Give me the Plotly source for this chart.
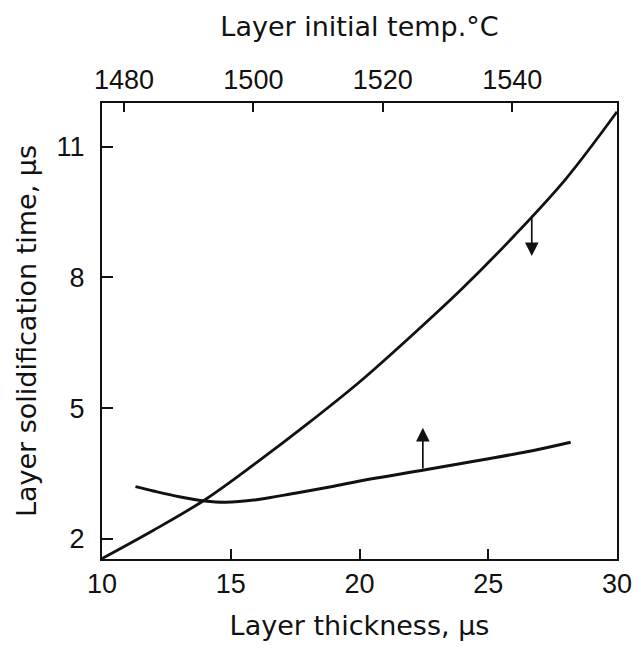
import plotly.graph_objects as go

# Curve rising with thickness (upper curve at right)
thick_a = [10, 12, 14, 16, 18, 20, 22, 24, 26, 28, 30]
time_a = [1.55, 2.2, 2.9, 3.75, 4.65, 5.6, 6.65, 7.75, 8.95, 10.25, 11.8]

# Curve vs initial temperature (lower curve at right), plotted on thickness scale
thick_b = [11.3, 12, 13, 14, 14.8, 16, 17.5, 19, 20.6, 22.5, 24.5, 26.5, 28.2]
time_b = [3.2, 3.1, 2.97, 2.87, 2.84, 2.9, 3.05, 3.21, 3.39, 3.58, 3.79, 4.0, 4.22]

x_ticks = [10, 15, 20, 25, 30]
y_ticks = [2, 5, 8, 11]
temp_ticks = [1480, 1500, 1520, 1540]

# arrows: (x, base y, tip y)
arrow_a = (26.69, 9.39, 8.49)
arrow_b = (22.46, 3.58, 4.55)

TICKFONT = "Liberation Sans, Arial, sans-serif"
TITLEFONT = "DejaVu Sans, Liberation Sans, sans-serif"
BLACK = "#111111"

fig = go.Figure()
fig.add_trace(go.Scatter(x=thick_a, y=time_a, mode="lines", line=dict(color=BLACK, width=2.8, shape="spline"),
                         showlegend=False, hoverinfo="skip"))
fig.add_trace(go.Scatter(x=thick_b, y=time_b, mode="lines", line=dict(color=BLACK, width=3, shape="spline"),
                         showlegend=False, hoverinfo="skip"))
# invisible trace for top axis
fig.add_trace(go.Scatter(x=[temp_ticks[0]], y=[None], xaxis="x2", mode="lines", showlegend=False, hoverinfo="skip"))

for ax_x, base, tip in (arrow_a, arrow_b):
    fig.add_annotation(x=ax_x, y=tip, ax=ax_x, ay=base, xref="x", yref="y", axref="x", ayref="y",
                       showarrow=True, arrowhead=2, arrowsize=1.6, arrowwidth=1.7, arrowcolor=BLACK, text="")

tf = dict(family=TICKFONT, size=27, color=BLACK)
ttl = dict(family=TITLEFONT, size=27, color=BLACK)

fig.update_layout(
    width=644, height=648,
    margin=dict(l=102, r=17, t=103, b=89),
    paper_bgcolor="white", plot_bgcolor="white",
    font=dict(family=TICKFONT, color=BLACK, size=26),
    xaxis=dict(range=[10, 30], tickvals=x_ticks, ticks="inside", ticklen=10, tickwidth=1.5, tickcolor=BLACK,
               showline=True, linecolor=BLACK, linewidth=2, mirror=True, showgrid=False, zeroline=False,
               tickfont=tf, title=dict(text="Layer thickness, µs", font=ttl, standoff=18)),
    xaxis2=dict(range=[1476.6, 1556.2], tickvals=temp_ticks, overlaying="x", side="top", anchor="y",
                ticks="inside", ticklen=9, tickwidth=1.5, tickcolor=BLACK, showgrid=False, zeroline=False,
                showline=False, tickfont=tf, ticklabelstandoff=8,
                title=dict(text="Layer initial temp.°C", font=ttl, standoff=20)),
    yaxis=dict(range=[1.54, 12.0], tickvals=y_ticks, ticks="inside", ticklen=11, tickwidth=1.5, tickcolor=BLACK,
               showline=True, linecolor=BLACK, linewidth=2, mirror=True, showgrid=False, zeroline=False,
               tickfont=tf, ticklabelstandoff=10,
               title=dict(text="Layer solidification time, µs", font=ttl, standoff=12)),
)

fig.write_html("out.html")
